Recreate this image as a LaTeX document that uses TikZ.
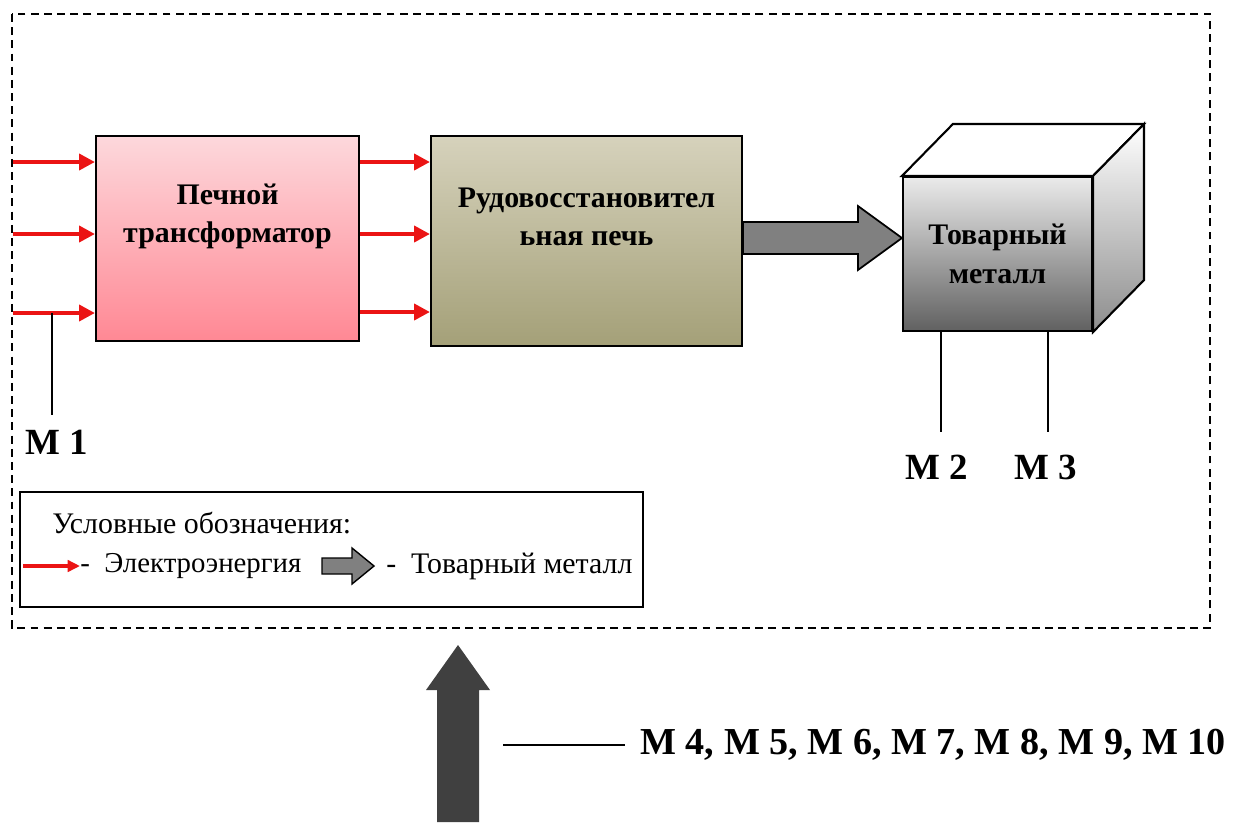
\documentclass[tikz,border=0pt]{standalone}
\usepackage{fontspec}
\setmainfont{Liberation Serif}
\usetikzlibrary{arrows.meta,calc}
\definecolor{elred}{RGB}{235,20,20}
\definecolor{pinktop}{RGB}{253,216,220}
\definecolor{pinkbot}{RGB}{255,136,148}
\definecolor{furntop}{RGB}{214,210,188}
\definecolor{furnbot}{RGB}{164,160,120}
\begin{document}
\begin{tikzpicture}[x=0.02cm,y=-0.02cm,
	elarrow/.style={elred,line width=2.8pt,-{Triangle[length=9pt,width=9pt]}},
	boxlabel/.style={font=\fontsize{17}{22}\selectfont\bfseries,align=center},
	mlabel/.style={font=\fontsize{21}{24}\selectfont\bfseries,inner sep=0pt},
	legtext/.style={font=\fontsize{17}{20}\selectfont,inner sep=0pt,anchor=west},
	mline/.style={line width=0.8pt}]
				\useasboundingbox (0,0) rectangle (1238,822);
				\draw[dash pattern=on 4.5pt off 3pt, line width=0.9pt] (12,14) rectangle (1210,628);
				% blocks
				\node[draw, line width=1.2pt, top color=pinktop, bottom color=pinkbot, minimum width=5.26cm, minimum height=4.1cm] (trans) at (227.5,238.5) {};
				\node[boxlabel] (translbl) at ($(trans)+(0,-22)$) {Печной\\трансформатор};
				\node[draw, line width=1.2pt, top color=furntop, bottom color=furnbot, minimum width=6.22cm, minimum height=4.2cm] (furn) at (586.5,241) {};
				\node[boxlabel] (furnlbl) at ($(furn)+(0,-24)$) {Рудовосстановител\\ьная печь};
				\node[draw, line width=1.2pt, top color=black!8, bottom color=black!62, minimum width=3.78cm, minimum height=3.08cm] (metal) at (997.5,254) {};
				\draw[line width=1.2pt, fill=white] (metal.north west) -- ++(51,-52) -- ($(metal.north east)+(51,-52)$) -- (metal.north east) -- cycle;
				\draw[line width=1.2pt, top color=white, bottom color=black!45] (metal.north east) -- ++(51,-52) -- ($(metal.south east)+(51,-52)$) -- (metal.south east) -- cycle;
				\node[boxlabel] (metallbl) at (metal) {Товарный\\металл};
				% electric power
				\foreach \y [count=\i] in {162,234,313} {
					\coordinate (in\i) at (13,\y);
					\draw[elarrow] (in\i) -- (trans.west |- in\i);
				}
				\foreach \y in {162,234,312} \draw[elarrow] (trans.east |- 0,\y) -- (furn.west |- 0,\y);
				% product metal
				\coordinate (tip) at (metal.west |- 0,238);
				\draw[line width=1pt, fill=black!50] ($(furn.east |- tip)+(0,-16)$) -- ($(tip)+(-44,-16)$) -- ($(tip)+(-44,-32)$) -- (tip)
					-- ($(tip)+(-44,32)$) -- ($(tip)+(-44,16)$) -- ($(furn.east |- tip)+(0,16)$) -- cycle;
				% measuring points
				\node[mlabel] (m1) at (57,442) {M 1};
				\coordinate (t1) at (52,313);
				\coordinate (b1) at (52,415);
				\draw[mline] (t1) -- (b1);
				\node[mlabel] (m2) at (937,467) {M 2};
				\node[mlabel] (m3) at (1046,467) {M 3};
				\draw[mline] (metal.south -| 941,0) -- (941,432);
				\draw[mline] (metal.south -| 1048,0) -- (1048,432);
				% legend
				\node[draw, line width=1pt, minimum width=12.46cm, minimum height=2.3cm] (legend) at (331.5,549.5) {};
				\node[legtext] (legtitle) at (52,523) {Условные обозначения:};
				\coordinate (la) at (23,566);
				\node[legtext, font=\fontsize{16.4}{20}\selectfont] (legel) at (80,566) {-~~Электроэнергия};
				\draw[elred, line width=1.9pt, -{Triangle[length=7pt,width=6.5pt]}] (la) -- (legel.west);
				\draw[line width=0.8pt, fill=black!50] (322,558) -- (352,558) -- (352,548) -- (374,566) -- (352,584) -- (352,574) -- (322,574) -- cycle;
				\node[legtext] (legmet) at (386,566) {-~~Товарный металл};
				% external input
				\fill[black!75] (437,822) -- (437,690) -- (426,690) -- (458,645) -- (490,690) -- (479,690) -- (479,822) -- cycle;
				\coordinate (lst) at (503,745);
				\node[mlabel, anchor=west, font=\fontsize{21.7}{24}\selectfont\bfseries] (mlist) at (640,745) {M 4, M 5, M 6, M 7, M 8, M 9, M 10};
				\draw[mline, shorten >=8.5pt] (lst) -- (mlist.west);
			\end{tikzpicture}
\end{document}
